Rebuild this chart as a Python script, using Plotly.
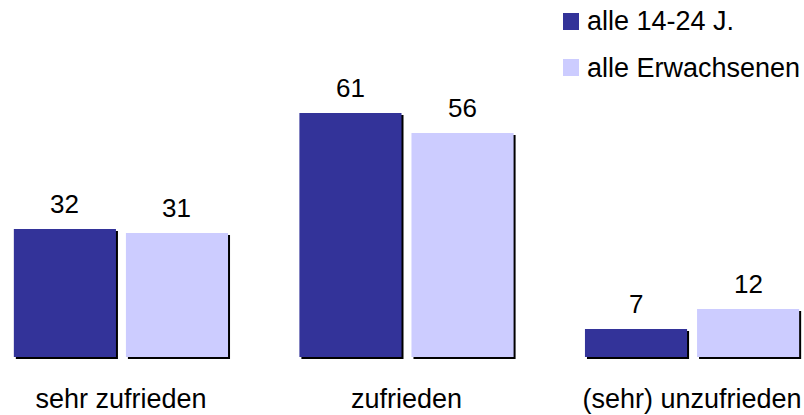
import plotly.graph_objects as go

categories = ["sehr zufrieden", "zufrieden", "(sehr) unzufrieden"]
series_names = ["alle 14-24 J.", "alle Erwachsenen"]
values_young = [32, 61, 7]
values_adults = [31, 56, 12]
colors = ["#333399", "#CCCCFF"]

W, H = 804, 415
B = 56                     # bottom margin
PH = H - B                 # plot height in px (top margin 0)
SH = 2                     # shadow offset px
FONT = "Liberation Sans, Arial, sans-serif"
FS_AXIS, FS_VAL, FS_LEG = 27, 26, 27
BARGAP = 0.215

fig = go.Figure()

series = [values_young, values_adults]
# shadows (subplot x/y)
for name, vals in zip(series_names, series):
    fig.add_trace(go.Bar(x=categories, y=vals, name=name, marker_color="black",
                         marker_line_width=0, showlegend=False, hoverinfo="skip",
                         xaxis="x", yaxis="y"))
# real bars (subplot x2/y2)
for name, vals, c in zip(series_names, series, colors):
    fig.add_trace(go.Bar(x=categories, y=vals, name=name, marker_color=c,
                         marker_line_width=0, showlegend=False,
                         xaxis="x2", yaxis="y2"))

# value labels above each bar
slot = (1 - BARGAP) / len(series)
for k, vals in enumerate(series):
    off = (k - (len(series) - 1) / 2) * slot
    for i, v in enumerate(vals):
        fig.add_annotation(xref="x2", yref="y2", x=i + off, y=v, text=str(v),
                           showarrow=False, yanchor="bottom", yshift=8,
                           font=dict(size=FS_VAL, color="black", family=FONT))

xr = [-0.4235, 2.385]
yr = [0, (PH - SH) / 4.0]

fig.update_layout(
    width=W, height=H,
    margin=dict(l=0, r=0, t=0, b=B, autoexpand=False),
    paper_bgcolor="white", plot_bgcolor="rgba(0,0,0,0)",
    barmode="group", bargap=BARGAP, bargroupgap=0.089,
    font=dict(family=FONT, size=FS_AXIS, color="black"),
    showlegend=False,
    xaxis=dict(domain=[SH / W, 1], range=xr, showticklabels=False, showgrid=False,
               zeroline=False, showline=False, ticks="", anchor="y", automargin=False),
    yaxis=dict(domain=[0, 1 - SH / PH], range=yr, visible=False, anchor="x",
               automargin=False),
    xaxis2=dict(domain=[0, 1 - SH / W], range=xr, showgrid=False, zeroline=False,
                showline=False, ticks="", anchor="y2", automargin=False,
                ticklabelstandoff=23,
                tickfont=dict(size=FS_AXIS, color="black", family=FONT)),
    yaxis2=dict(domain=[SH / PH, 1], range=yr, visible=False, anchor="x2",
                automargin=False),
)

# manual legend
legend_boxes = [(13, 30), (59, 76)]
for name, c, (t, b) in zip(series_names, colors, legend_boxes):
    fig.add_shape(type="rect", xref="paper", yref="paper",
                  x0=563 / W, x1=579 / W, y0=(PH - b) / PH, y1=(PH - t) / PH,
                  fillcolor=c, line_width=0)
    fig.add_annotation(xref="paper", yref="paper", x=585 / W, y=(PH - (t + b) / 2) / PH,
                       text=name, showarrow=False, xanchor="left", yanchor="middle",
                       font=dict(size=FS_LEG, color="black", family=FONT))

fig.write_html("out.html", config={"displayModeBar": False},
               post_script="document.body.style.margin='0';")
